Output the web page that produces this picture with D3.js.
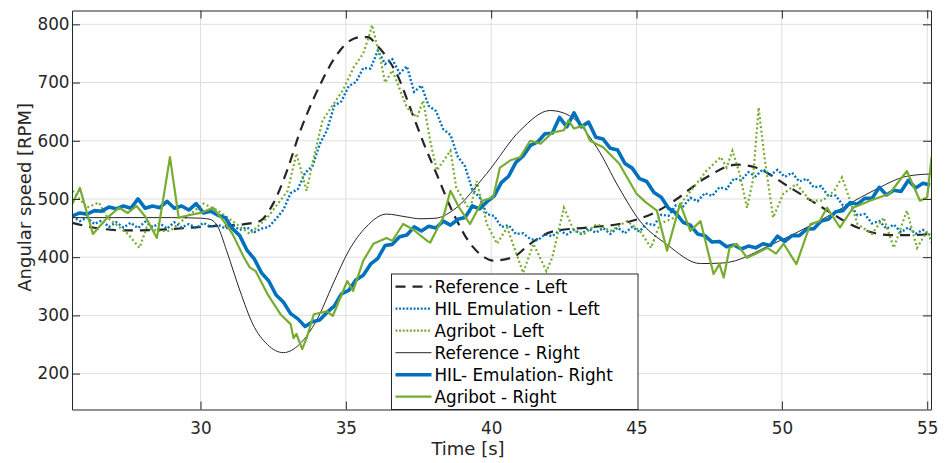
<!DOCTYPE html>
<html>
<head>
<meta charset="utf-8">
<script src="https://cdn.jsdelivr.net/npm/d3@7"></script>
<style>
    body { margin: 0; background: #fff; }
    svg { font-family: "DejaVu Sans", sans-serif; }
</style>
</head>
<body>
<svg id="plot" width="945" height="463"></svg>
<script>
// Reference curves, [time, rpm]
const refLeft = [[25.6,459],[26.3,451],[27.5,446],[28.5,447],[29.5,450],[30.3,453],[31.2,455],[31.7,458],[32.05,462],[32.5,492],[33,552],[33.42,615],[33.87,670],[34.2,705],[34.56,738],[35.04,768],[35.5,778],[35.75,778],[36.07,764],[36.4,744],[36.76,714],[37.3,645],[37.7,593],[38.13,542],[38.7,475],[39.27,424],[39.7,402],[40.07,394],[40.75,400],[41.34,423],[42.1,444],[43.3,451],[44.4,457],[45.1,466],[45.6,476],[46.3,497],[47.4,537],[48.45,559],[49.1,554],[50.3,519],[51.4,485],[52.6,451],[53.7,438],[54.5,438],[55.13,440]];
const refRight = [[25.6,468],[27,468],[29,468],[30,467],[30.33,465],[30.6,452],[30.9,411],[31.36,342],[31.8,285],[32.3,250],[32.85,236],[33.4,250],[34,292],[34.56,354],[35.1,411],[35.7,452],[36.4,474],[37.1,469],[37.55,466],[38.1,467],[38.7,481],[39.85,544],[41,618],[42.03,652],[42.7,643],[43.64,588],[44.4,519],[45.12,462],[46.04,422],[47.2,389],[47.98,390],[49.7,423],[51.42,466],[53.14,514],[54.3,539],[55.13,543]];

// HIL emulation, sampled every 0.25 s from 25.6 s
const hilStart = 25.6;
const hilStep = 0.25;
const hilLeft = [470,462,468,457,463,452,460,451,459,450,461,452,458,449,460,451,457,450,459,452,
    456,449,455,447,451,443,449,452,466,481,510,517,545,556,594,618,660,668,694,701,
    725,724,755,732,740,716,728,684,695,660,651,620,610,573,556,516,503,474,471,452,
    455,440,441,431,429,439,436,446,439,447,440,449,442,450,440,451,441,452,444,458,
    455,473,471,489,487,502,496,510,505,520,517,535,532,546,539,551,541,550,538,545,
    530,535,520,522,505,506,489,490,472,474,458,462,449,456,443,451,440,447,438];
const hilRight = [471,476,474,480,479,486,483,488,484,500,484,488,485,496,484,488,481,492,476,479,
    472,468,449,437,412,397,373,359,335,323,303,294,281,289,292,305,316,337,343,361,
    369,388,398,420,422,435,438,452,445,453,450,462,455,465,468,488,483,495,505,528,
    539,563,574,592,598,612,613,640,624,648,624,632,606,603,587,584,561,553,535,530,
    511,503,484,476,460,455,440,437,426,427,418,421,414,419,416,423,420,436,427,437,
    437,448,449,462,465,478,480,494,491,501,501,520,507,515,513,532,519,527,524];

// Agribot measurements, [time, rpm]
const agriLeft = [[25.6,514],[26.1,485],[26.5,494],[26.8,468],[27.5,440],[27.9,416],[28.15,451],[28.5,445],[28.95,445],[29.5,468],[30.1,492],[30.6,480],[31.1,462],[31.7,440],[32.3,468],[33,514],[33.3,578],[33.65,514],[33.85,561],[34.2,635],[34.9,687],[35.27,726],[35.6,750],[35.83,785],[35.9,799],[36.2,738],[36.35,700],[36.6,721],[37.1,657],[37.45,640],[37.66,669],[37.9,600],[38.13,549],[38.6,583],[38.8,519],[39.27,480],[39.5,531],[39.85,457],[40.2,423],[40.55,451],[41.1,373],[41.45,423],[41.9,376],[42.1,399],[42.5,485],[42.85,445],[43.2,440],[43.64,457],[44.1,445],[44.67,462],[45.12,445],[45.5,416],[45.8,457],[46.3,468],[46.6,497],[46.95,519],[47.4,548],[47.9,572],[48.1,554],[48.3,583],[48.55,543],[48.8,485],[49.0,531],[49.2,657],[49.4,572],[49.7,468],[50.05,509],[50.5,526],[50.97,497],[51.4,497],[51.8,514],[52.07,537],[52.35,497],[52.6,457],[53.1,440],[53.5,468],[53.85,416],[54.3,480],[54.65,416],[55,445],[55.15,425]];
const agriRight = [[25.6,492],[25.85,519],[26.3,440],[26.8,468],[27.2,485],[27.5,476],[27.8,488],[28.1,470],[28.5,433],[28.95,572],[29.25,468],[29.6,472],[30,476],[30.43,485],[30.8,462],[31.1,440],[31.5,399],[31.7,382],[31.9,376],[32.3,337],[32.75,302],[33.1,285],[33.2,261],[33.3,268],[33.5,242],[33.65,261],[33.9,302],[34.35,307],[34.55,299],[35.05,359],[35.25,342],[35.6,394],[35.95,423],[36.4,433],[36.6,428],[36.97,457],[37.3,448],[37.8,428],[37.9,425],[38.35,468],[38.6,514],[38.9,485],[39.27,457],[39.7,497],[40.07,503],[40.3,554],[40.65,566],[41,572],[41.34,600],[41.7,595],[42.1,614],[42.5,618],[42.65,635],[42.85,621],[43.17,626],[43.4,600],[43.85,589],[44.4,561],[45,509],[45.3,495],[45.7,480],[46.05,411],[46.5,492],[46.85,445],[47.2,462],[47.65,371],[47.85,388],[48,365],[48.2,416],[48.45,423],[48.8,399],[49.1,406],[49.5,416],[49.8,406],[50.06,423],[50.5,388],[50.98,457],[51.3,462],[51.55,485],[52,451],[52.45,485],[53.03,497],[53.7,509],[54.3,548],[54.75,497],[55,503],[55.15,572]];

const xTicks = [30, 35, 40, 45, 50, 55];
const yTicks = [200, 300, 400, 500, 600, 700, 800];
const legendLabels = ["Reference - Left", "HIL Emulation - Left", "Agribot - Left", "Reference - Right", "HIL- Emulation- Right", "Agribot - Right"];

const blue = "#0072bd";
const green = "#77ac30";
const dark = "#262626";

// Plot box
const plotLeft = 72, plotRight = 931, plotTop = 10.5, plotBottom = 409.5;

const x = d3.scaleLinear().domain([25.58, 55.13]).range([plotLeft, plotRight]);
const y = d3.scaleLinear().domain([138.3, 823.8]).range([plotBottom, plotTop]);

const svg = d3.select("#plot");

svg.append("defs").append("clipPath").attr("id", "clip")
    .append("rect")
    .attr("x", plotLeft).attr("y", plotTop)
    .attr("width", plotRight - plotLeft).attr("height", plotBottom - plotTop);

// Grid lines
svg.append("g").selectAll("line").data(xTicks).enter().append("line")
    .attr("x1", (d) => x(d)).attr("x2", (d) => x(d))
    .attr("y1", plotTop).attr("y2", plotBottom)
    .attr("stroke", "#dfdfdf").attr("stroke-width", 1);
svg.append("g").selectAll("line").data(yTicks).enter().append("line")
    .attr("x1", plotLeft).attr("x2", plotRight)
    .attr("y1", (d) => y(d)).attr("y2", (d) => y(d))
    .attr("stroke", "#dfdfdf").attr("stroke-width", 1);

const pairLine = d3.line().x((d) => x(d[0])).y((d) => y(d[1]));
const smoothLine = d3.line().x((d) => x(d[0])).y((d) => y(d[1])).curve(d3.curveMonotoneX);
const hilLine = d3.line().x((d, i) => x(hilStart + i * hilStep)).y((d) => y(d));

const lines = svg.append("g").attr("clip-path", "url(#clip)").attr("fill", "none");

// Appending the six series in plotting order
lines.append("path").attr("d", smoothLine(refLeft))
    .attr("stroke", dark).attr("stroke-width", 2.2).attr("stroke-dasharray", "10,7");
lines.append("path").attr("d", hilLine(hilLeft))
    .attr("stroke", blue).attr("stroke-width", 2.4).attr("stroke-dasharray", "2,2");
lines.append("path").attr("d", pairLine(agriLeft))
    .attr("stroke", green).attr("stroke-width", 2.2).attr("stroke-dasharray", "2,2.5");
lines.append("path").attr("d", smoothLine(refRight))
    .attr("stroke", dark).attr("stroke-width", 1);
lines.append("path").attr("d", hilLine(hilRight))
    .attr("stroke", blue).attr("stroke-width", 3.6).attr("stroke-linejoin", "round");
lines.append("path").attr("d", pairLine(agriRight))
    .attr("stroke", green).attr("stroke-width", 2.2).attr("stroke-linejoin", "round");

// Axes: left and bottom with labels, top and right plain, ticks inward
const axisStyle = (g) => {
    g.select(".domain").attr("stroke", dark);
    g.selectAll(".tick line").attr("stroke", dark);
    g.selectAll(".tick text").attr("fill", dark).attr("font-size", "16.8px").attr("font-family", "DejaVu Sans");
};

svg.append("g").attr("transform", "translate(0," + plotBottom + ")")
    .call(d3.axisBottom(x).tickValues(xTicks).tickSizeInner(-8).tickSizeOuter(0).tickPadding(12.5))
    .call(axisStyle);
svg.append("g").attr("transform", "translate(" + plotLeft + ",0)")
    .call(d3.axisLeft(y).tickValues(yTicks).tickSizeInner(-8).tickSizeOuter(0).tickPadding(2.5))
    .call(axisStyle);
svg.append("g").attr("transform", "translate(0," + plotTop + ")")
    .call(d3.axisTop(x).tickValues(xTicks).tickSizeInner(-8).tickSizeOuter(0).tickFormat(""))
    .call(axisStyle);
svg.append("g").attr("transform", "translate(" + plotRight + ",0)")
    .call(d3.axisRight(y).tickValues(yTicks).tickSizeInner(-8).tickSizeOuter(0).tickFormat(""))
    .call(axisStyle);

// Axis titles
svg.append("text")
    .attr("transform", "translate(31,103) rotate(-90)")
    .attr("text-anchor", "end")
    .attr("font-size", "18px").attr("fill", dark)
    .text("Angular speed [RPM]");
svg.append("text")
    .attr("x", 468).attr("y", 455)
    .attr("text-anchor", "middle")
    .attr("font-size", "18px").attr("fill", dark)
    .text("Time [s]");

// Legend
const legend = svg.append("g").attr("transform", "translate(391.5,274)");
legend.append("rect")
    .attr("width", 246.5).attr("height", 135.5)
    .attr("fill", "#fff").attr("stroke", dark).attr("stroke-width", 1);

const legendStyles = [
    { color: dark, width: 2.2, dash: "10,7" },
    { color: blue, width: 2.2, dash: "2,1.6" },
    { color: green, width: 2.2, dash: "2,1.6" },
    { color: dark, width: 1, dash: null },
    { color: blue, width: 3.6, dash: null },
    { color: green, width: 2.2, dash: null }
];

const rows = legend.selectAll("g.row").data(legendLabels).enter().append("g")
    .attr("class", "row")
    .attr("transform", (d, i) => "translate(0," + (12.7 + i * 22) + ")");
rows.append("line")
    .attr("x1", 4).attr("x2", 40).attr("y1", 0).attr("y2", 0)
    .attr("stroke", (d, i) => legendStyles[i].color)
    .attr("stroke-width", (d, i) => legendStyles[i].width)
    .attr("stroke-dasharray", (d, i) => legendStyles[i].dash);
rows.append("text")
    .attr("x", 43).attr("y", 0).attr("dy", "0.36em")
    .attr("font-size", "16.8px").attr("fill", "#000")
    .text((d) => d);
</script>
</body>
</html>
